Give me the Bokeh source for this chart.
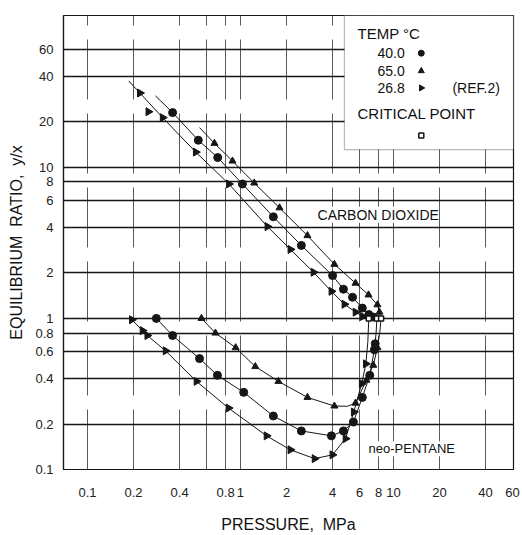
import numpy as np
from bokeh.plotting import figure
from bokeh.models import FixedTicker, BoxAnnotation, Label
from bokeh.embed import file_html
from bokeh.resources import INLINE

# ---------------- data ----------------
x_ticks = [0.1, 0.2, 0.4, 0.6, 0.8, 1, 2, 4, 6, 8, 10, 20, 40, 60]
y_ticks = [0.1, 0.2, 0.4, 0.6, 0.8, 1, 2, 4, 6, 8, 10, 20, 40, 60]
x_grid = [0.1, 0.2, 0.4, 0.6, 0.8, 1, 2, 4, 6, 8, 10, 20, 40]
y_grid = [0.2, 0.4, 0.6, 0.8, 1, 2, 4, 6, 8, 10, 20, 40, 60]

# carbon dioxide, 26.8 C (REF.2) - markers
co2_268_p = [0.22, 0.25, 0.31, 0.51, 0.84, 1.50, 2.12, 3.0, 3.93, 4.78, 5.65, 6.3]
co2_268_k = [31, 23.3, 21.3, 12.6, 7.75, 4.05, 2.86, 2.02, 1.51, 1.24, 1.10, 1.03]
co2_268_curve_p = [0.186, 0.22, 0.31, 0.51, 0.84, 1.50, 2.12, 3.0, 3.93, 4.78, 5.65, 6.3, 6.9]
co2_268_curve_k = [37.3, 31, 21.3, 12.6, 7.75, 4.05, 2.86, 2.02, 1.51, 1.24, 1.10, 1.03, 1.0]

# carbon dioxide, 40.0 C
co2_400_p = [0.36, 0.53, 0.71, 1.03, 1.64, 2.5, 4.0, 4.71, 5.4, 6.26, 6.9, 7.4]
co2_400_k = [23.0, 15.1, 11.6, 7.75, 4.7, 3.04, 1.92, 1.56, 1.38, 1.17, 1.06, 1.02]
co2_400_curve_p = [0.278, 0.36, 0.53, 0.71, 1.03, 1.64, 2.5, 4.0, 4.71, 5.4, 6.26, 6.9, 7.4, 7.8]
co2_400_curve_k = [29.7, 23.0, 15.1, 11.6, 7.75, 4.7, 3.04, 1.92, 1.56, 1.38, 1.17, 1.06, 1.02, 1.0]

# carbon dioxide, 65.0 C
co2_650_p = [0.676, 0.887, 1.23, 1.80, 2.74, 4.11, 5.65, 6.87, 7.86, 8.1]
co2_650_k = [14.4, 11.0, 7.87, 5.39, 3.53, 2.28, 1.71, 1.43, 1.23, 1.10]
co2_650_curve_p = [0.54, 0.676, 0.887, 1.23, 1.80, 2.74, 4.11, 5.65, 6.87, 7.86, 8.1, 8.3]
co2_650_curve_k = [18.3, 14.4, 11.0, 7.87, 5.39, 3.53, 2.28, 1.71, 1.43, 1.23, 1.10, 1.0]

# neo-pentane, 26.8 C (REF.2)
np_268_p = [0.195, 0.229, 0.246, 0.324, 0.516, 0.835, 1.48, 2.12, 3.05, 3.99, 4.86, 5.5, 6.2, 6.6]
np_268_k = [0.98, 0.83, 0.77, 0.61, 0.383, 0.255, 0.167, 0.135, 0.118, 0.125, 0.16, 0.24, 0.37, 0.5]
np_268_curve_p = [0.195, 0.229, 0.246, 0.324, 0.516, 0.835, 1.48, 2.12, 3.05, 3.99, 4.86, 5.5, 6.2, 6.6, 6.8, 6.9]
np_268_curve_k = [0.98, 0.83, 0.77, 0.61, 0.383, 0.255, 0.167, 0.135, 0.118, 0.125, 0.16, 0.24, 0.37, 0.5, 0.7, 1.0]

# neo-pentane, 40.0 C
np_400_p = [0.282, 0.36, 0.54, 0.707, 1.05, 1.64, 2.5, 3.93, 4.71, 5.47, 6.26, 7.0, 7.5, 7.6]
np_400_k = [1.0, 0.77, 0.542, 0.42, 0.324, 0.226, 0.18, 0.167, 0.18, 0.206, 0.30, 0.42, 0.62, 0.68]
np_400_curve_p = [0.282, 0.36, 0.54, 0.707, 1.05, 1.64, 2.5, 3.93, 4.71, 5.47, 6.26, 7.0, 7.5, 7.7, 7.8]
np_400_curve_k = [1.0, 0.77, 0.542, 0.42, 0.324, 0.226, 0.18, 0.167, 0.18, 0.206, 0.30, 0.42, 0.62, 0.8, 1.0]

# neo-pentane, 65.0 C
np_650_p = [0.556, 0.686, 0.93, 1.25, 1.77, 2.74, 4.11, 5.65, 6.66, 7.38, 7.86]
np_650_k = [1.0, 0.80, 0.64, 0.48, 0.383, 0.30, 0.263, 0.275, 0.39, 0.49, 0.64]
np_650_curve_p = [0.556, 0.686, 0.93, 1.25, 1.77, 2.74, 4.11, 5.0, 5.65, 6.66, 7.38, 7.86, 8.15, 8.3]
np_650_curve_k = [1.0, 0.80, 0.64, 0.48, 0.383, 0.30, 0.263, 0.262, 0.275, 0.39, 0.49, 0.64, 0.82, 1.0]

# critical points
crit_p = [6.9, 7.8, 8.3]
crit_k = [1.0, 1.0, 1.0]

FONT = "Liberation Sans"
INK = "#161616"
NB = "\u00a0"

p = figure(width=522, height=535, x_axis_type="log", y_axis_type="log",
           x_range=(0.0697, 60.9), y_range=(0.1, 101),
           output_backend="svg", toolbar_location=None,
           min_border_left=63, min_border_right=9, min_border_top=15, min_border_bottom=63,
           background_fill_color="white", border_fill_color="white")

p.outline_line_color = INK
p.outline_line_width = 1.2

# axes
for ax, ticks in ((p.xaxis, x_ticks), (p.yaxis, y_ticks)):
    ax.ticker = FixedTicker(ticks=ticks, minor_ticks=[])
    ax.major_tick_line_color = None
    ax.minor_tick_line_color = None
    ax.axis_line_color = INK
    ax.axis_line_width = 1.2
    ax.major_label_text_font = FONT
    ax.major_label_text_font_size = "13px"
    ax.major_label_text_color = "#222222"
    ax.axis_label_text_font = FONT
    ax.axis_label_text_font_size = "16px"
    ax.axis_label_text_font_style = "normal"
    ax.axis_label_text_color = "#111111"

p.xaxis.major_label_standoff = 12
p.xaxis.axis_label = "PRESSURE," + NB + " MPa"
p.xaxis.axis_label_standoff = 16
p.xaxis.major_label_overrides = {0.6: ""}

p.yaxis.major_label_standoff = 4
p.yaxis.axis_label = "EQUILIBRIUM" + NB + " RATIO," + NB + " y/x"
p.yaxis.axis_label_standoff = 7

# grid
p.xgrid.ticker = FixedTicker(ticks=x_grid, minor_ticks=[])
p.ygrid.ticker = FixedTicker(ticks=y_grid, minor_ticks=[])
p.xgrid.grid_line_color = "#5a5a5a"
p.xgrid.grid_line_width = 1
p.xgrid.grid_line_dash = "60 14"
p.ygrid.grid_line_color = INK
p.ygrid.grid_line_width = 1.3

# curves
for cp, ck in ((co2_268_curve_p, co2_268_curve_k), (co2_400_curve_p, co2_400_curve_k),
               (co2_650_curve_p, co2_650_curve_k), (np_268_curve_p, np_268_curve_k),
               (np_400_curve_p, np_400_curve_k), (np_650_curve_p, np_650_curve_k)):
    p.line(cp, ck, line_color=INK, line_width=1)

# markers
right_angle = -np.pi / 2
p.scatter(co2_268_p, co2_268_k, marker="triangle", angle=right_angle, size=8,
          fill_color=INK, line_color=INK)
p.scatter(np_268_p, np_268_k, marker="triangle", angle=right_angle, size=8,
          fill_color=INK, line_color=INK)
p.scatter(co2_400_p, co2_400_k, marker="circle", size=8, fill_color=INK, line_color=INK)
p.scatter(np_400_p, np_400_k, marker="circle", size=8, fill_color=INK, line_color=INK)
p.scatter(co2_650_p, co2_650_k, marker="triangle", size=7, fill_color=INK, line_color=INK)
p.scatter(np_650_p, np_650_k, marker="triangle", size=7, fill_color=INK, line_color=INK)
p.scatter(crit_p, crit_k, marker="square", size=5, fill_color="white", line_color=INK,
          line_width=1.5)

# legend box
box = BoxAnnotation(left=4.78, right=60.9, bottom=13.1, top=101,
                    fill_color="white", fill_alpha=1.0, line_color=INK, line_width=1.2)
p.add_layout(box)

def lab(x, y, text, size="15px", align="left"):
    p.add_layout(Label(x=x, y=y, text=text, text_font=FONT, text_font_size=size,
                       text_color="#111111", text_align=align, text_baseline="middle"))

lab(5.82, 76.9, "TEMP \u00b0C")
lab(7.86, 56.9, "40.0", "14px")
lab(7.86, 43.4, "65.0", "14px")
lab(7.86, 33.5, "26.8", "14px")
lab(24.3, 33.5, "(REF.2)", "14px")
lab(5.82, 22.6, "CRITICAL POINT")

leg_x = [15.2]
p.scatter(leg_x, [56.9], marker="circle", size=6, fill_color=INK, line_color=INK, level="overlay")
p.scatter(leg_x, [43.4], marker="triangle", size=6, fill_color=INK, line_color=INK, level="overlay")
p.scatter(leg_x, [33.5], marker="triangle", angle=right_angle, size=6, fill_color=INK,
          line_color=INK, level="overlay")
p.scatter(leg_x, [16.2], marker="square", size=5, fill_color="white", line_color=INK,
          line_width=1.5, level="overlay")

# in-chart labels
p.add_layout(Label(x=3.19, y=4.85, text="CARBON DIOXIDE", text_font=FONT, text_font_size="14px",
                   text_color="#111111", text_baseline="middle", background_fill_color="white"))
p.add_layout(Label(x=6.87, y=0.137, text="neo-PENTANE", text_font=FONT, text_font_size="13px",
                   text_color="#111111", text_baseline="middle", background_fill_color="white"))

# second-row tick label 0.6
p.add_layout(Label(x=0.6, y=0.0568, text="0.6", text_font=FONT, text_font_size="13px",
                   text_color="#222222", text_align="center", text_baseline="middle"))

open("out.html", "w").write(file_html(p, INLINE))
